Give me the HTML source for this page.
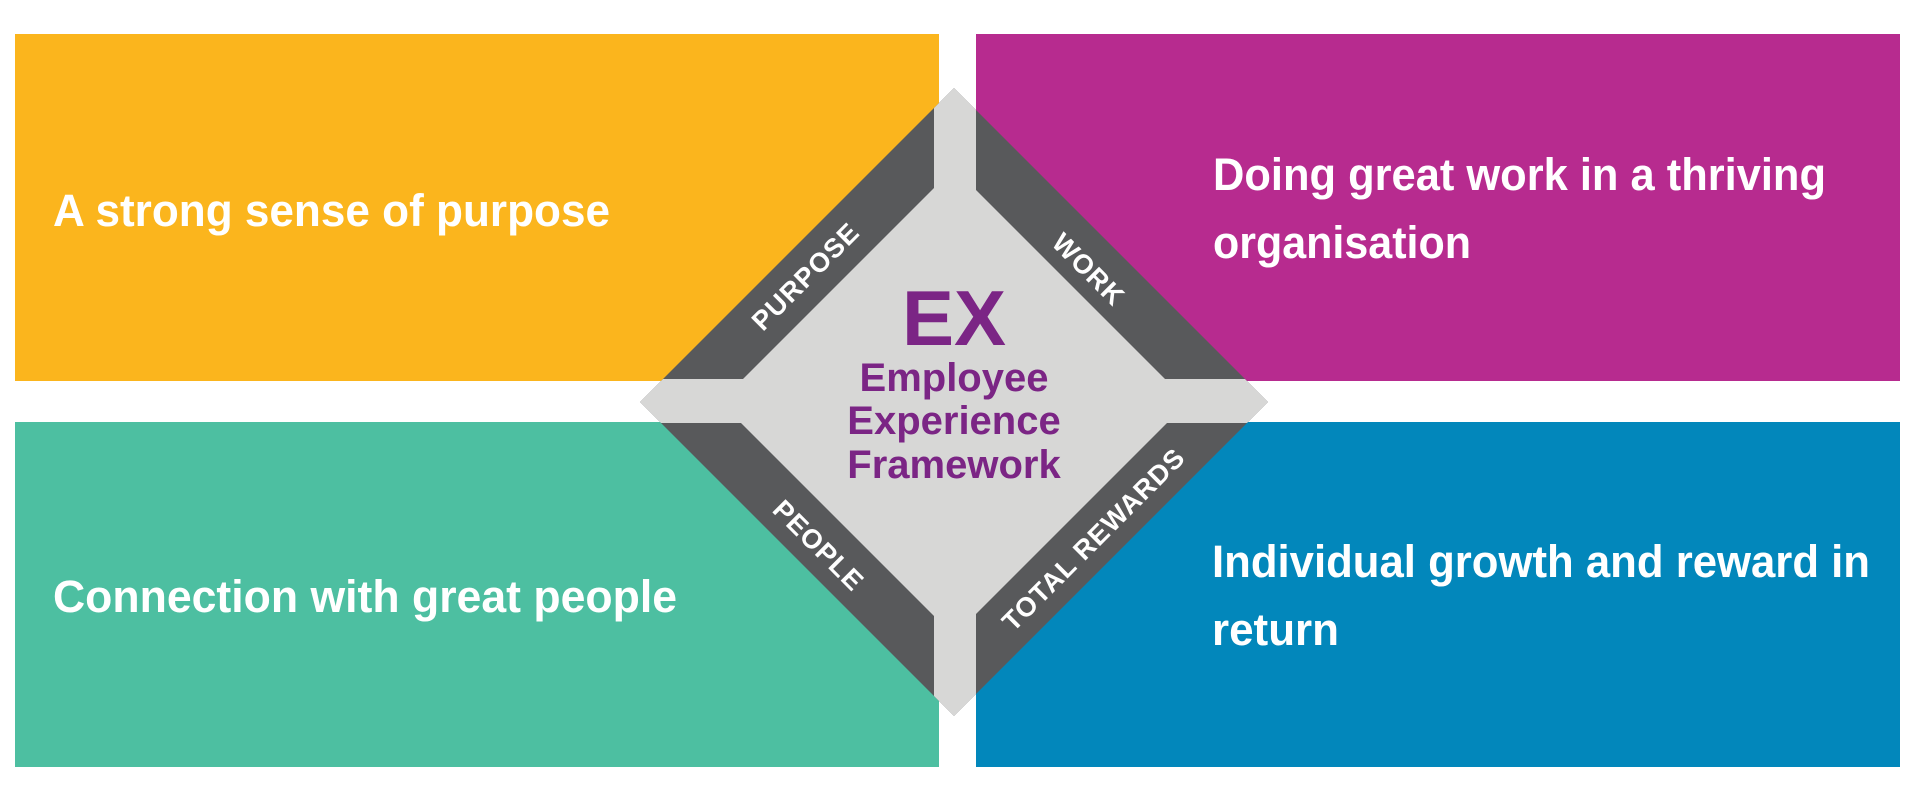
<!DOCTYPE html>
<html><head><meta charset="utf-8"><style>
html,body{margin:0;padding:0;background:#fff;}
svg{display:block;}
text{font-family:"Liberation Sans",Arial,sans-serif;}
</style></head><body>
<svg width="1919" height="801" viewBox="0 0 1919 801" xmlns="http://www.w3.org/2000/svg">
<rect x="15" y="34" width="924" height="347" fill="#fbb51d"/>
<rect x="976" y="34" width="924" height="347" fill="#b72b8f"/>
<rect x="15" y="422" width="924" height="345" fill="#4dbfa1"/>
<rect x="976" y="422" width="924" height="345" fill="#0287bb"/>
<defs><clipPath id="d"><polygon points="954,88 1268,402 954,716 640,402"/></clipPath></defs>
<polygon points="954,88 1268,402 954,716 640,402" fill="#58595b"/>
<g clip-path="url(#d)" fill="#d7d7d6">
<polygon points="954,168 1188,402 954,636 720,402"/>
<rect x="934" y="80" width="42" height="640"/>
<rect x="630" y="379" width="650" height="44"/>
</g>
<g fill="#fff" font-size="27" font-weight="bold" text-anchor="middle" letter-spacing="1">
<text transform="translate(812,283) rotate(-45)">PURPOSE</text>
<text transform="translate(1082,276) rotate(45)">WORK</text>
<text transform="translate(812,552) rotate(45)">PEOPLE</text>
<text transform="translate(1100,546) rotate(-45)">TOTAL REWARDS</text>
</g>
<g fill="#7b2585" font-weight="bold" text-anchor="middle">
<text x="954" y="345" font-size="78">EX</text>
<text x="954" y="391" font-size="40">Employee</text>
<text x="954" y="434" font-size="40">Experience</text>
<text x="954" y="478" font-size="40">Framework</text>
</g>
<g fill="#fff" font-size="45" font-weight="bold">
<text x="53" y="226" textLength="557" lengthAdjust="spacingAndGlyphs">A strong sense of purpose</text>
<text x="1213" y="190" textLength="613" lengthAdjust="spacingAndGlyphs">Doing great work in a thriving</text>
<text x="1213" y="258" textLength="258" lengthAdjust="spacingAndGlyphs">organisation</text>
<text x="53" y="612" textLength="624" lengthAdjust="spacingAndGlyphs">Connection with great people</text>
<text x="1212" y="577" textLength="658" lengthAdjust="spacingAndGlyphs">Individual growth and reward in</text>
<text x="1212" y="645" textLength="127" lengthAdjust="spacingAndGlyphs">return</text>
</g>
</svg>
</body></html>
